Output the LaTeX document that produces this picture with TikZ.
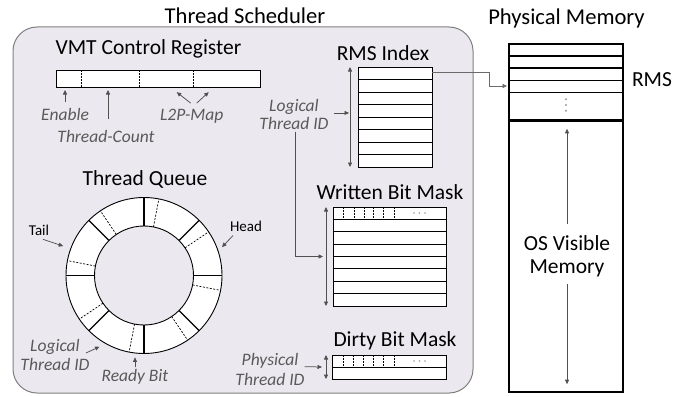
\documentclass[tikz,border=0pt]{standalone}
\usepackage{fontspec}
\setmainfont{Carlito}
\usetikzlibrary{arrows.meta,calc}
\definecolor{panelfill}{HTML}{EBE9EF}
\definecolor{panelline}{HTML}{808080}
\definecolor{lblgray}{HTML}{595959}
\definecolor{arrgray}{HTML}{505050}
\begin{document}
\begin{tikzpicture}[x=1pt,y=-1pt,
  title/.style={font=\fontsize{21.5}{24}\selectfont, inner sep=0pt, anchor=base},
  bigtitle/.style={font=\fontsize{22.6}{25}\selectfont, inner sep=0pt, anchor=base},
  lbl/.style={font=\fontsize{17.5}{19}\selectfont\itshape, text=lblgray, inner sep=0pt, anchor=base},
  tag/.style={font=\fontsize{15}{17}\selectfont, inner sep=0pt, anchor=base},
  arr/.style={draw=arrgray, line width=0.75pt, -{Triangle[length=4.5pt,width=4pt]}},
  darr/.style={draw=arrgray, line width=0.75pt, {Triangle[length=4.5pt,width=4pt]}-{Triangle[length=4.5pt,width=4pt]}},
  tbox/.style={draw=black, fill=white, line width=0.9pt, inner sep=0pt, outer sep=0pt},
  rowline/.style={line width=1pt},
  dashdiv/.style={line width=0.7pt, dash pattern=on 1.6pt off 1.4pt},
  dotmark/.style={fill=lblgray!60, draw=none},
]
\useasboundingbox (0,0) rectangle (687,396);

% panel
\node[draw=panelline, fill=panelfill, line width=1pt, rounded corners=24pt,
      minimum width=460pt, minimum height=366pt, inner sep=0pt] (panel) at (243,210) {};

% titles
\node[bigtitle] (tsched) at (245,23.5) {Thread Scheduler};
\node[bigtitle] (pmem) at (566.5,24.5) {Physical Memory};

% VMT control register
\node[title] (vmtt) at (148.5,55) {VMT Control Register};
\node[tbox, minimum width=204pt, minimum height=17pt] (reg) at (158,78.5) {};
\foreach \x in {81,139,193} \draw[dashdiv] (\x,70) -- (\x,87);
\node[lbl] (en) at (65,120.7) {Enable};
\node[lbl] (tc) at (106,142.7) {Thread-Count};
\node[lbl] (l2p) at (191.7,120.7) {L2P-Map};
\draw[arr] ($(en.north)+(0,-6)$) -- ($(en.north |- reg.south)+(0,3)$);
\draw[arr] ($(tc.north)+(2,-11)$) -- ($(tc.north |- reg.south)+(2,3)$);
\draw[arr] ($(l2p.north)+(-1,-6)$) -- ++(-14,-11);
\draw[arr] ($(l2p.north)+(5,-6)$) -- ++(12,-11);

% RMS index
\node[title] (rmst) at (383,60) {RMS Index};
\node[tbox, minimum width=74pt, minimum height=100pt] (rms) at (395,117) {};
\foreach \i in {1,...,7}
  \draw[rowline] ($(rms.north west)!\i/8!(rms.south west)$) -- ($(rms.north east)!\i/8!(rms.south east)$);
\draw[darr] ($(rms.north west)+(-8,0)$) -- ($(rms.south west)+(-8,0)$);
\node[lbl] (rlA) at (294,111) {Logical};
\node[lbl] (rlB) at (294,129.3) {Thread ID};
\draw[arr] ($(rlB.north east)+(5,-4)$) -- ($(rms.west |- rlB.north)+(-9,-4)$);

% Written bit mask
\node[title] (wbmt) at (390,199.3) {Written Bit Mask};
\node[tbox, minimum width=113pt, minimum height=99pt] (wbm) at (389.5,256.5) {};
\foreach \i in {1,...,7}
  \draw[rowline] ($(wbm.north west)!\i/8!(wbm.south west)$) -- ($(wbm.north east)!\i/8!(wbm.south east)$);
\foreach \x in {343.3,354.3,364.3,373.3,383.3,394} \draw[dashdiv] (\x,207) -- (\x,219.4);
\foreach \x in {414,419.5,425} \fill[dotmark] (\x,213) circle (0.9pt);
\draw[darr] ($(wbm.north west)+(-7,0)$) -- ($(wbm.south west)+(-7,0)$);
\draw[arr] ($(rlB.south)+(1,2)$) |- ($(wbm.west)+(-10,0)$);

% Dirty bit mask
\node[title] (dbmt) at (395,346.7) {Dirty Bit Mask};
\node[tbox, minimum width=114pt, minimum height=24pt] (dbm) at (389,367) {};
\draw[rowline] (dbm.west) -- (dbm.east);
\foreach \x in {343,353,363,373,383,394} \draw[dashdiv] (\x,355) -- (\x,367);
\foreach \x in {414,419.5,425} \fill[dotmark] (\x,361) circle (0.9pt);
\draw[darr] ($(dbm.north west)+(-6,0)$) -- ($(dbm.south west)+(-6,0)$);
\node[lbl] (ptA) at (270,365.5) {Physical};
\node[lbl] (ptB) at (270,385) {Thread ID};
\draw[arr] ($(ptB.north east)+(0,-6)$) -- ($(dbm.west)+(-10,0)$);

% Thread queue
\node[title] (tqt) at (145,185) {Thread Queue};
\node[circle, draw, fill=white, line width=0.9pt, minimum size=156pt, inner sep=0pt, outer sep=0pt] (ring) at (144,275.5) {};
\node[circle, draw, fill=panelfill, line width=0.9pt, minimum size=99pt, inner sep=0pt, outer sep=0pt] (hole) at (ring.center) {};
\foreach \a in {0,45,...,315} {
  \draw[line width=1.1pt] (hole.\a) -- (ring.\a);
  \pgfmathtruncatemacro{\b}{\a-11}
  \draw[line width=0.7pt, dash pattern=on 2pt off 1.5pt] (hole.\b) -- (ring.\b);
}
\node[tag] (tail) at (39,235) {Tail};
\node[tag] (head) at (246,231.7) {Head};
\draw[arr] ($(tail.south)+(4,4)$) -- ($(ring.160)!-8pt!(ring.center)$);
\draw[arr] ($(head.south)+(-13,3.5)$) -- ($(ring.20)!-5pt!(ring.center)$);
\node[lbl] (qlA) at (55,351) {Logical};
\node[lbl] (qlB) at (55,370) {Thread ID};
\draw[arr] ($(qlA.base east)+(6,2)$) -- ($(ring.238)!-6pt!(ring.center)$);
\node[lbl] (rb) at (135,381.7) {Ready Bit};
\draw[arr] ($(rb.north)+(0,-2)$) -- ++(0,-10);

% Physical memory
\node[draw, line width=2.4pt, fill=white, minimum width=114pt, minimum height=348pt, inner sep=0pt] (mem) at (566,218) {};
\foreach \y in {56,68,80.5,92.5} \draw[line width=1.1pt] (509,\y) -- (623,\y);
\draw[line width=2.4pt] (509,120.5) -- (623,120.5);
\foreach \y in {99.3,105,110.7} \fill[dotmark] (566,\y) circle (1.1pt);
\node[title] (rmsl) at (652,86) {RMS};
\coordinate (slot) at (507,86);
\draw[arr, draw=arrgray!85] ($(rms.north east)+(0,5.5)$) -| ($(slot)+(-18,0)$) -- (slot);
\node[title] (osA) at (567,250) {OS Visible};
\node[title] (osB) at (567,273.3) {Memory};
\draw[arr] ($(osA.north)+(0,-11)$) -- ($(mem.north)+(1,86)$);
\draw[arr] ($(osB.south)+(0,7)$) -- ($(mem.south)+(1,-9)$);
\end{tikzpicture}
\end{document}
